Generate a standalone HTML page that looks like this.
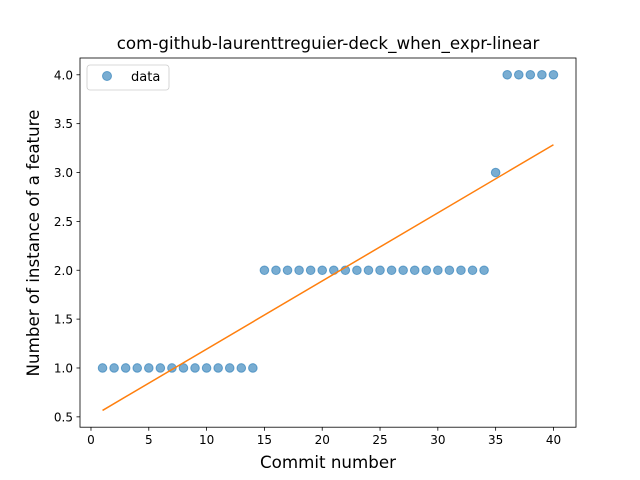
<!DOCTYPE html>
<html><head><meta charset="utf-8"><style>
body{margin:0;background:#fff;}
svg{display:block;font-family:"DejaVu Sans","Liberation Sans",sans-serif;}
</style></head><body>
<svg id="chart" width="640" height="480">
<rect width="640" height="480" fill="#fff"/>
<text x="328" y="49" text-anchor="middle" font-size="16.7">com-github-laurenttreguier-deck_when_expr-linear</text>
<g id="plot"></g>
<rect x="80" y="58" width="496" height="369.2" fill="none" stroke="#000" stroke-width="0.8"/>
<text x="328" y="468" text-anchor="middle" font-size="16.7">Commit number</text>
<text transform="translate(39,243) rotate(-90)" text-anchor="middle" font-size="16.7">Number of instance of a feature</text>
<g>
<rect x="87" y="65" width="82" height="25" rx="3" fill="#fff" stroke="#ccc" stroke-width="0.8"/>
<circle cx="107" cy="76" r="4.5" fill="#1f77b4" fill-opacity="0.6" stroke="#1f77b4" stroke-opacity="0.6"/>
<text x="131" y="81" font-size="13">data</text>
</g>
</svg>
<script>
const commits=[1,2,3,4,5,6,7,8,9,10,11,12,13,14,15,16,17,18,19,20,21,22,23,24,25,26,27,28,29,30,31,32,33,34,35,36,37,38,39,40];
const counts=[1,1,1,1,1,1,1,1,1,1,1,1,1,1,2,2,2,2,2,2,2,2,2,2,2,2,2,2,2,2,2,2,2,2,3,4,4,4,4,4];
const xTicks=[0,5,10,15,20,25,30,35,40];
const yTicks=[0.5,1.0,1.5,2.0,2.5,3.0,3.5,4.0];
const NS='http://www.w3.org/2000/svg';
const L=80,R=576,T=58,B=427.2;
const n=commits.length;
const mx=commits.reduce((a,b)=>a+b,0)/n, my=counts.reduce((a,b)=>a+b,0)/n;
let sxy=0,sxx=0;for(let i=0;i<n;i++){sxy+=(commits[i]-mx)*(counts[i]-my);sxx+=(commits[i]-mx)**2;}
const slope=sxy/sxx, icpt=my-slope*mx;
const x0=Math.min(...commits),x1=Math.max(...commits);
const fy0=icpt+slope*x0, fy1=icpt+slope*x1;
const ymin=Math.min(...counts,fy0,fy1), ymax=Math.max(...counts,fy0,fy1);
const xpad=(x1-x0)*0.05, ypad=(ymax-ymin)*0.05;
const xs=v=>L+(v-(x0-xpad))/((x1+xpad)-(x0-xpad))*(R-L);
const ys=v=>B-(v-(ymin-ypad))/((ymax+ypad)-(ymin-ypad))*(B-T);
const g=document.getElementById('plot');
function mk(t,a){const e=document.createElementNS(NS,t);for(const k in a)e.setAttribute(k,a[k]);g.appendChild(e);return e;}
xTicks.forEach(v=>{
 const x=xs(v);
 const l=mk('line',{x1:x,x2:x,y1:B,y2:B+3.5,stroke:'#000','stroke-width':0.8});
 
 
 const t=mk('text',{x:x,y:B+17,'text-anchor':'middle','font-size':12});
 t.textContent=v;
 
 
});
yTicks.forEach(v=>{
 const y=ys(v);
 const l=mk('line',{x1:L-3.5,x2:L,y1:y,y2:y,stroke:'#000','stroke-width':0.8});
 
 
 const t=mk('text',{x:L-7,y:y+4.5,'text-anchor':'end','font-size':12});
 t.textContent=v.toFixed(1);
 
 
});
commits.forEach((c,i)=>{
 const p=mk('circle',{cx:xs(c),cy:ys(counts[i]),r:4.3,fill:'#1f77b4','fill-opacity':0.6,stroke:'#1f77b4','stroke-opacity':0.6});
 
 
});
const fl=mk('line',{x1:xs(x0),y1:ys(fy0),x2:xs(x1),y2:ys(fy1),stroke:'#ff7f0e','stroke-width':1.5});


</script>
</body></html>
